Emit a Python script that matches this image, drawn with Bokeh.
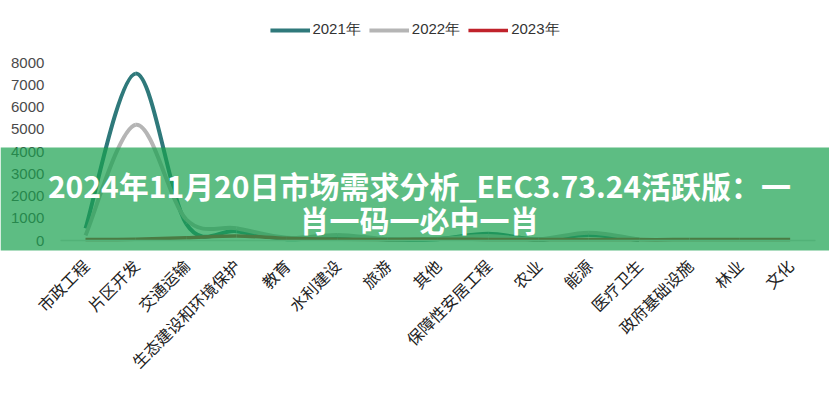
import math
from bokeh.plotting import figure
from bokeh.models import (Range1d, FixedTicker, Legend, LegendItem, Label,
                          BoxAnnotation)
from bokeh.embed import file_html
from bokeh.resources import INLINE

categories = ["市政工程", "片区开发", "交通运输", "生态建设和环境保护", "教育",
              "水利建设", "旅游", "其他", "保障性安居工程", "农业", "能源",
              "医疗卫生", "政府基础设施", "林业", "文化"]
y2021 = [540, 7500, 760, 420, 60, 180, 40, 60, 300, 40, 250, 30]
y2022 = [230, 5200, 950, 550, 120, 250, 60, 80, 200, 50, 350, 40]
y2023 = [40, 60, 120, 200, 100, 60, 50, 60, 50, 40, 50, 40, 40, 40, 40]
yticks = [0, 1000, 2000, 3000, 4000, 5000, 6000, 7000, 8000]
series_names = ["2021年", "2022年", "2023年"]
colors = ["#2f797b", "#b5b5b5", "#c0222b"]
widths = [4, 4, 3.5]
title_lines = ["2024年11月20日市场需求分析_EEC3.73.24活跃版：一",
               "肖一码一必中一肖"]

# layout in pixels (frame covers the whole canvas, axes drawn at fixed spots)
W, H = 829, 392
X0_PX, PX_PER_CAT = 85.0, 755 / 15.0      # pixel of first category, spacing
Y0_PX, PX_PER_UNIT = 240.0, 0.02225       # pixel of value 0, px per unit


def dx(px):
    return (px - X0_PX) / PX_PER_CAT


def dy(py):
    return (Y0_PX - py) / PX_PER_UNIT


p = figure(width=W, height=H, output_backend="svg", toolbar_location=None,
           x_range=Range1d(dx(0), dx(W)), y_range=Range1d(dy(H), dy(0)),
           min_border_left=0, min_border_right=0,
           min_border_top=0, min_border_bottom=0)
p.outline_line_color = None
p.grid.visible = False
p.background_fill_color = "white"
p.border_fill_color = "white"


def bezier_segments(ys, t=1.0):
    xs = list(range(len(ys)))
    n = len(ys)
    d = dict(x0=[], y0=[], x1=[], y1=[], cx0=[], cy0=[], cx1=[], cy1=[])
    for i in range(n - 1):
        im = max(i - 1, 0)
        ip = min(i + 2, n - 1)
        d["x0"].append(xs[i]); d["y0"].append(ys[i])
        d["x1"].append(xs[i + 1]); d["y1"].append(ys[i + 1])
        d["cx0"].append(xs[i] + (xs[i + 1] - xs[im]) / 6 * t)
        d["cy0"].append(ys[i] + (ys[i + 1] - ys[im]) / 6 * t)
        d["cx1"].append(xs[i + 1] - (xs[ip] - xs[i]) / 6 * t)
        d["cy1"].append(ys[i + 1] - (ys[ip] - ys[i]) / 6 * t)
    return d


items = []
for name, ys, c, w in zip(series_names, [y2021, y2022, y2023], colors, widths):
    d = bezier_segments(ys)
    r = p.bezier(x0="x0", y0="y0", x1="x1", y1="y1", cx0="cx0", cy0="cy0",
                 cx1="cx1", cy1="cy1", source=d, line_color=c, line_width=w)
    items.append(LegendItem(label=name, renderers=[r], index=0))

legend = Legend(items=items, orientation="horizontal", location="top",
                border_line_color=None, background_fill_alpha=0,
                padding=0, margin=20, spacing=8, label_standoff=3,
                glyph_width=40, glyph_height=14,
                label_text_font="Liberation Sans",
                label_text_font_size="15px", label_text_color="#333333")
p.add_layout(legend)

# axes drawn at fixed data positions
p.yaxis.fixed_location = -0.5
p.yaxis.ticker = FixedTicker(ticks=yticks)
p.yaxis.axis_line_color = None
p.yaxis.major_tick_line_color = None
p.yaxis.minor_tick_line_color = None
p.yaxis.major_label_text_font = "Liberation Sans"
p.yaxis.major_label_text_font_size = "15px"
p.yaxis.major_label_text_color = "#4a4a4a"
p.yaxis.major_label_standoff = 10

p.xaxis.fixed_location = 0
p.xaxis.bounds = (-0.5, len(categories) - 0.5)
p.xaxis.ticker = FixedTicker(ticks=list(range(len(categories))))
p.xaxis.major_label_overrides = {i: c for i, c in enumerate(categories)}
p.xaxis.major_label_orientation = math.pi / 4
p.xaxis.axis_line_color = "#d9d9d9"
p.xaxis.axis_line_width = 1.5
p.xaxis.major_tick_line_color = None
p.xaxis.minor_tick_line_color = None
p.xaxis.major_label_text_font = "Noto Sans CJK SC"
p.xaxis.major_label_text_font_size = "16px"
p.xaxis.major_label_text_color = "#222222"
p.xaxis.major_label_standoff = 16

# overlay banner
banner = BoxAnnotation(top=dy(147), bottom=dy(250),
                       fill_color="#18a14e", fill_alpha=0.7,
                       line_color=None, level="overlay")
p.add_layout(banner)

for txt, yc in zip(title_lines, [dy(184), dy(218)]):
    p.add_layout(Label(x=dx(419), y=yc, text=txt, text_align="center",
                       text_baseline="middle", text_color="white",
                       text_font="Noto Sans CJK SC", text_font_style="bold",
                       text_font_size="30px", level="overlay"))

open("out.html", "w").write(file_html(p, INLINE))
